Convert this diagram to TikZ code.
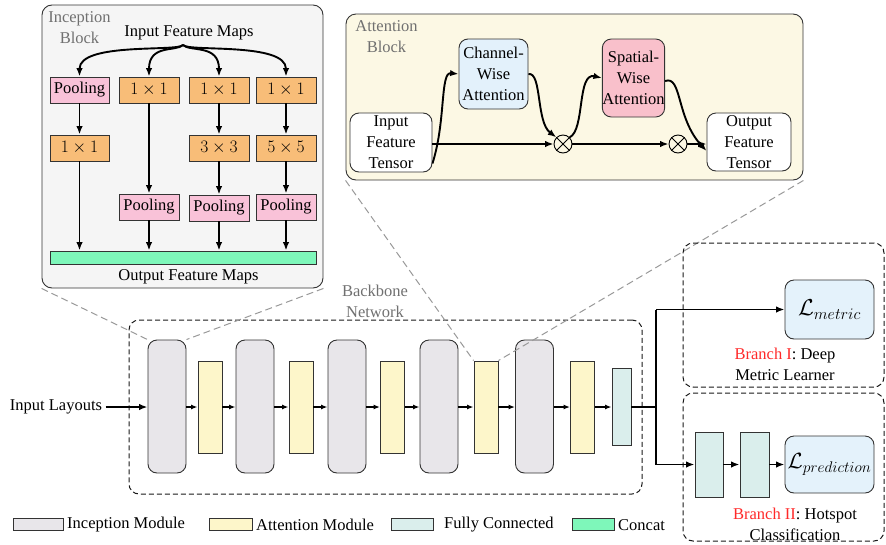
\RequirePackage{fix-cm}
\documentclass[tikz,border=0pt]{standalone}
\usepackage{fontspec}
\setmainfont{Liberation Serif}
\usetikzlibrary{arrows.meta}
\definecolor{iblockfill}{HTML}{F5F5F5}
\definecolor{ablockfill}{HTML}{FCF8E4}
\definecolor{poolpink}{HTML}{F9C2D8}
\definecolor{convorange}{HTML}{F8BD78}
\definecolor{concatgreen}{HTML}{7EF7BA}
\definecolor{chanblue}{HTML}{E3F1FB}
\definecolor{spatpink}{HTML}{F9C0CB}
\definecolor{incgrey}{HTML}{E8E6EA}
\definecolor{attyellow}{HTML}{FDF6CA}
\definecolor{fcteal}{HTML}{DAEEEC}
\definecolor{lossblue}{HTML}{E4F2FB}
\definecolor{brred}{HTML}{FF2A2A}
\definecolor{labgrey}{HTML}{707070}
\begin{document}
\begin{tikzpicture}[x=1pt,y=-1pt,
  font=\fontsize{16.5}{21}\selectfont,
  bx/.style={draw=black!80, line width=0.9pt, inner sep=0pt, align=center},
  poolbox/.style={bx, fill=poolpink, minimum width=59pt, minimum height=26pt},
  convbox/.style={bx, fill=convorange, minimum width=60pt, minimum height=26pt, font=\fontsize{17.5}{21}\selectfont},
  incmod/.style={bx, fill=incgrey, rounded corners=9pt, minimum width=38pt, minimum height=133pt},
  attmod/.style={bx, fill=attyellow, minimum width=24pt, minimum height=92pt},
  fcmod/.style={bx, fill=fcteal},
  lossbox/.style={bx, fill=lossblue, rounded corners=9pt, minimum width=89pt},
  tensorbox/.style={bx, fill=white, rounded corners=9pt},
  otimesnode/.style={draw=black, line width=0.9pt, circle, minimum size=18pt, inner sep=0pt},
  arr/.style={-{Latex[length=8.5pt,width=6.5pt]}, line width=1.9pt},
  sarr/.style={-{Latex[length=6.5pt,width=5pt]}, line width=1.6pt},
  greylab/.style={text=labgrey, align=center},
  guide/.style={draw=black!40, line width=1pt, dash pattern=on 7pt off 4pt},
  dbox/.style={draw=black!90, line width=1pt, dash pattern=on 5pt off 3pt, rounded corners=10pt, inner sep=0pt},
  legbox/.style={bx, minimum height=12pt},
]
\useasboundingbox (0,0) rectangle (886,544);

% ---------------- Inception block ----------------
\node[bx, fill=iblockfill, rounded corners=10pt, minimum width=281pt, minimum height=283pt] (incb) at (182.5,146.5) {};
\node[greylab] (inclab) at (79.5,28) {Inception\\Block};
\node (ifm) at (189,33) {Input Feature Maps};
\coordinate (fan) at (183,45);

\node[poolbox] (p1) at (79.5,90) {Pooling};
\node[convbox] (c1) at (149,90) {$1\times1$};
\node[convbox] (c2) at (219,90) {$1\times1$};
\node[convbox] (c3) at (286,90) {$1\times1$};

\node[convbox, minimum width=59pt] (c4) at (79.5,148) {$1\times1$};
\node[convbox] (c5) at (219,148) {$3\times3$};
\node[convbox] (c6) at (286,148) {$5\times5$};

\node[poolbox, minimum width=60pt] (p2) at (149,207) {Pooling};
\node[poolbox, minimum width=60pt] (p3) at (219,208) {Pooling};
\node[poolbox, minimum width=60pt] (p4) at (286,207) {Pooling};

\node[bx, fill=concatgreen, minimum width=266pt, minimum height=13pt] (cat) at (183,257.5) {};
\node (ofm) at (188.5,277) {Output Feature Maps};

\draw[arr] (fan) .. controls (178,52) and (79.5,42) .. (p1.north);
\draw[arr] (fan) .. controls (176,52) and (149,44) .. (c1.north);
\draw[arr] (fan) .. controls (190,52) and (219,44) .. (c2.north);
\draw[arr] (fan) .. controls (188,52) and (286,42) .. (c3.north);

\draw[arr] (p1) -- (c4);
\draw[arr] (c4.south) -- (c4.south |- cat.north);
\draw[arr] (c1) -- (p2);
\draw[arr] (p2.south) -- (p2.south |- cat.north);
\draw[arr] (c2) -- (c5);
\draw[arr] (c5) -- (p3);
\draw[arr] (p3.south) -- (p3.south |- cat.north);
\draw[arr] (c3) -- (c6);
\draw[arr] (c6) -- (p4);
\draw[arr] (p4.south) -- (p4.south |- cat.north);

% ---------------- Attention block ----------------
\node[bx, fill=ablockfill, rounded corners=10pt, minimum width=457pt, minimum height=166pt] (attb) at (574.5,97) {};
\node[greylab] (attlab) at (386.5,36.5) {Attention\\Block};
\node[tensorbox, minimum width=82pt, minimum height=59pt] (inT) at (391,142.5) {Input\\Feature\\Tensor};
\node[bx, fill=chanblue, rounded corners=9pt, minimum width=69pt, minimum height=70pt] (cwa) at (493.5,74) {Channel-\\Wise\\Attention};
\node[bx, fill=spatpink, rounded corners=9pt, minimum width=61pt, minimum height=78pt] (spa) at (633.5,78) {Spatial-\\Wise\\Attention};
\node[tensorbox, minimum width=84pt, minimum height=58pt] (outT) at (749,142) {Output\\Feature\\Tensor};
\node[otimesnode] (ot1) at (563,144) {};
\node[otimesnode] (ot2) at (678,144) {};
\draw[line width=0.9pt] (ot1.north west) -- (ot1.south east) (ot1.north east) -- (ot1.south west);
\draw[line width=0.9pt] (ot2.north west) -- (ot2.south east) (ot2.north east) -- (ot2.south west);

\draw[arr] (inT.east |- ot1) -- (ot1.west);
\draw[arr] (ot1.east) -- (ot2.west);
\draw[arr] (ot2.east) -- (outT.west |- ot2);
\draw[arr] ([yshift=-21pt]inT.east) .. controls (446,121) and (440,72) .. (cwa.west);
\draw[arr] (cwa.east) .. controls (542,72) and (536,122) .. (ot1.north west);
\draw[arr] (ot1.north east) .. controls (585,130) and (577,72) .. (spa.west);
\draw[arr] ([yshift=-3pt]spa.east) .. controls (682,75) and (676,118) .. ([yshift=-9pt]outT.west);

% ---------------- Backbone ----------------
\node[dbox, minimum width=513pt, minimum height=174pt] (bb) at (385.5,407) {};
\node[greylab] (bblab) at (375,301) {Backbone\\Network};

\node[incmod] (m1) at (167,406.5) {};
\node[attmod] (a1) at (210,407) {};
\node[incmod] (m2) at (255,406.5) {};
\node[attmod] (a2) at (301,407) {};
\node[incmod] (m3) at (347,406.5) {};
\node[attmod] (a3) at (392.5,407) {};
\node[incmod] (m4) at (439,406.5) {};
\node[attmod] (a4) at (486,407) {};
\node[incmod] (m5) at (534.5,406.5) {};
\node[attmod] (a5) at (582.5,407) {};
\node[fcmod, minimum width=19pt, minimum height=77pt] (fc) at (621.5,406.5) {};

\node (inl) at (56,407) {Input Layouts};
\draw[arr] (inl.east) -- (m1.west |- inl);
\foreach \a/\b in {m1/a1,a1/m2,m2/a2,a2/m3,m3/a3,a3/m4,m4/a4,a4/m5,m5/a5,a5/fc}
  \draw[sarr] (\a.east |- 0,407) -- (\b.west |- 0,407);

% guide lines
\draw[guide] (incb.south west) -- (m1.north west);
\draw[guide] (incb.south east) -- (m1.north east);
\draw[guide] (attb.south west) -- (a4.north west);
\draw[guide] (attb.south east) -- (a4.north east);

% ---------------- Branches ----------------
\node[dbox, minimum width=201pt, minimum height=144pt] (br1) at (783.5,315) {};
\node[dbox, minimum width=201pt, minimum height=148pt] (br2) at (783.5,467) {};

\node[lossbox, minimum height=59pt, font=\fontsize{23}{28}\selectfont] (lm) at (829.5,309.5) {$\mathcal{L}_{metric}$};
\node[fcmod, minimum width=28pt, minimum height=65pt] (f1) at (709,464.5) {};
\node[fcmod, minimum width=29pt, minimum height=65pt] (f2) at (754.5,464.5) {};
\node[lossbox, minimum height=57pt, font=\fontsize{22}{28}\selectfont] (lp) at (829.5,464.5) {$\mathcal{L}_{prediction}$};

\node[align=center] (b1lab) at (785,364) {\textcolor{brred}{Branch I}: Deep\\Metric Learner};
\node[align=center] (b2lab) at (795,524) {\textcolor{brred}{Branch II}: Hotspot\\Classification};

\coordinate (sp) at (656,407);
\coordinate (spT) at (656,309.5);
\coordinate (spB) at (656,464.5);
\draw[line width=1.9pt] (fc.east |- sp) -- (sp);
\draw[line width=1.9pt] (spT) -- (spB);
\draw[arr] (spT) -- (lm.west);
\draw[arr] (spB) -- (f1.west);
\draw[arr] (f1.east) -- (f2.west);
\draw[arr] (f2.east) -- (lp.west);

% ---------------- Legend ----------------
\node[legbox, fill=incgrey, minimum width=50pt] (lg1) at (38,524) {};
\node[anchor=west, inner sep=0pt] (lt1) at (67,525) {Inception Module};
\node[legbox, fill=attyellow, minimum width=43pt] (lg2) at (230.5,524) {};
\node[anchor=west, inner sep=0pt] (lt2) at (256,525) {Attention Module};
\node[legbox, fill=fcteal, minimum width=42pt] (lg3) at (412,524) {};
\node[anchor=west, inner sep=0pt] (lt3) at (444,525) {Fully Connected};
\node[legbox, fill=concatgreen, minimum width=42pt] (lg4) at (593,524) {};
\node[anchor=west, inner sep=0pt] (lt4) at (618,525) {Concat};
\end{tikzpicture}
\end{document}
